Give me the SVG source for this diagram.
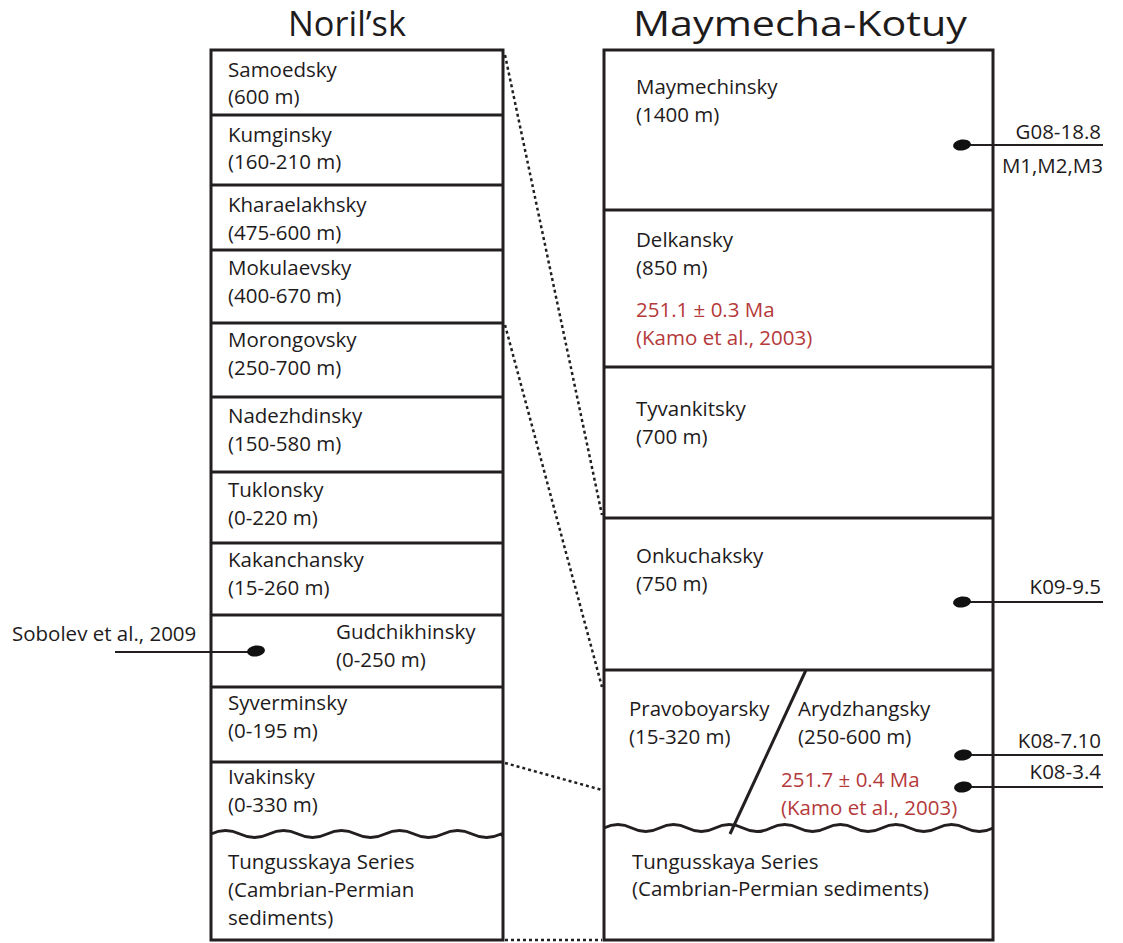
<svg xmlns="http://www.w3.org/2000/svg" width="1123" height="943" viewBox="0 0 1123 943">
<style>
.t{font-family:"Open Sans","Noto Sans","Liberation Sans",sans-serif;font-size:20.5px;fill:#1e1b1c}
.r{fill:#b5393a}
.h{font-family:"Open Sans","Noto Sans","Liberation Sans",sans-serif;font-size:34px;fill:#1e1b1c}
.box{fill:none;stroke:#231f20;stroke-width:3}
.ln{stroke:#231f20;stroke-width:3;fill:none}
.thin{stroke:#231f20;stroke-width:2;fill:none}
.dot{stroke:#231f20;stroke-width:2.5;stroke-dasharray:3 3;fill:none}
.pt{fill:#111}
</style>
<rect width="1123" height="943" fill="#fff"/>
<text class="h" x="347" y="36" text-anchor="middle" textLength="118" lengthAdjust="spacingAndGlyphs">Noril’sk</text>
<text class="h" x="800" y="36" text-anchor="middle" textLength="334" lengthAdjust="spacingAndGlyphs">Maymecha-Kotuy</text>

<g id="noril-column">
<rect class="box" x="211" y="50" width="292" height="890"/>
<path class="ln" d="M211 115H503M211 185H503M211 250H503M211 323H503M211 397H503M211 472H503M211 543H503M211 615H503M211 687H503M211 762H503"/>
<path class="ln" d="M211 834q14.5 -7 29 0t29 0t29 0t29 0t29 0t29 0t29 0t29 0t29 0t29 0L503 836"/>
</g>
<g id="samoedsky"><text class="t" x="228" y="77">Samoedsky</text><text class="t" x="228" y="104">(600 m)</text></g>
<g id="kumginsky"><text class="t" x="228" y="142">Kumginsky</text><text class="t" x="228" y="169">(160-210 m)</text></g>
<g id="kharaelakhsky"><text class="t" x="228" y="212">Kharaelakhsky</text><text class="t" x="228" y="240">(475-600 m)</text></g>
<g id="mokulaevsky"><text class="t" x="228" y="275">Mokulaevsky</text><text class="t" x="228" y="303">(400-670 m)</text></g>
<g id="morongovsky"><text class="t" x="228" y="347">Morongovsky</text><text class="t" x="228" y="375">(250-700 m)</text></g>
<g id="nadezhdinsky"><text class="t" x="228" y="423">Nadezhdinsky</text><text class="t" x="228" y="451">(150-580 m)</text></g>
<g id="tuklonsky"><text class="t" x="228" y="497">Tuklonsky</text><text class="t" x="228" y="525">(0-220 m)</text></g>
<g id="kakanchansky"><text class="t" x="228" y="567">Kakanchansky</text><text class="t" x="228" y="595">(15-260 m)</text></g>
<g id="gudchikhinsky"><text class="t" x="336" y="639">Gudchikhinsky</text><text class="t" x="336" y="667">(0-250 m)</text></g>
<g id="syverminsky"><text class="t" x="228" y="710">Syverminsky</text><text class="t" x="228" y="738">(0-195 m)</text></g>
<g id="ivakinsky"><text class="t" x="228" y="784">Ivakinsky</text><text class="t" x="228" y="812">(0-330 m)</text></g>
<g id="tungusskaya-left"><text class="t" x="228" y="869">Tungusskaya Series</text><text class="t" x="228" y="897">(Cambrian-Permian</text><text class="t" x="228" y="925">sediments)</text></g>
<g id="sobolev"><text class="t" x="12" y="641">Sobolev et al., 2009</text><path class="thin" d="M115 652H252"/><ellipse class="pt" cx="256" cy="651" rx="9" ry="5.5" transform="rotate(-8 256 651)"/></g>

<g id="maymecha-column">
<rect class="box" x="604" y="50" width="389" height="890"/>
<path class="ln" d="M604 210H993M604 367H993M604 518H993M604 670H993"/>
<path class="ln" d="M604 828q13.9 -7 27.8 0t27.8 0t27.8 0t27.8 0t27.8 0t27.8 0t27.8 0t27.8 0t27.8 0t27.8 0t27.8 0t27.8 0t27.8 0t27.8 0"/>
<path class="ln" d="M806 670L730 834"/>
</g>
<g id="maymechinsky"><text class="t" x="636" y="94">Maymechinsky</text><text class="t" x="636" y="122">(1400 m)</text></g>
<g id="delkansky"><text class="t" x="636" y="247">Delkansky</text><text class="t" x="636" y="275">(850 m)</text><text class="t r" x="636" y="317">251.1 ± 0.3 Ma</text><text class="t r" x="636" y="345">(Kamo et al., 2003)</text></g>
<g id="tyvankitsky"><text class="t" x="636" y="416">Tyvankitsky</text><text class="t" x="636" y="444">(700 m)</text></g>
<g id="onkuchaksky"><text class="t" x="636" y="563">Onkuchaksky</text><text class="t" x="636" y="591">(750 m)</text></g>
<g id="pravoboyarsky"><text class="t" x="629" y="716">Pravoboyarsky</text><text class="t" x="629" y="744">(15-320 m)</text></g>
<g id="arydzhangsky"><text class="t" x="798" y="716">Arydzhangsky</text><text class="t" x="798" y="744">(250-600 m)</text><text class="t r" x="781" y="787">251.7 ± 0.4 Ma</text><text class="t r" x="781" y="815">(Kamo et al., 2003)</text></g>
<g id="tungusskaya-right"><text class="t" x="632" y="869">Tungusskaya Series</text><text class="t" x="632" y="896">(Cambrian-Permian sediments)</text></g>

<g id="samples">
<path class="thin" d="M966 145H1103"/><ellipse class="pt" cx="962" cy="145" rx="9" ry="5.5" transform="rotate(-8 962 145)"/>
<text class="t" x="1101" y="139" text-anchor="end">G08-18.8</text><text class="t" x="1103" y="173" text-anchor="end">M1,M2,M3</text>
<path class="thin" d="M966 602H1103"/><ellipse class="pt" cx="962" cy="602" rx="9" ry="5.5" transform="rotate(-8 962 602)"/>
<text class="t" x="1101" y="594" text-anchor="end">K09-9.5</text>
<path class="thin" d="M966 755H1103"/><ellipse class="pt" cx="963" cy="755" rx="9" ry="5.5" transform="rotate(-8 963 755)"/>
<text class="t" x="1101" y="748" text-anchor="end">K08-7.10</text>
<path class="thin" d="M966 787H1103"/><ellipse class="pt" cx="963" cy="787" rx="9" ry="5.5" transform="rotate(-8 963 787)"/>
<text class="t" x="1101" y="779" text-anchor="end">K08-3.4</text>
</g>

<g id="connectors">
<path class="dot" d="M505 55L602 515"/>
<path class="dot" d="M505 325L602 687"/>
<path class="dot" d="M505 763L602 790"/>
<path class="dot" d="M505 940H602"/>
</g>
</svg>
